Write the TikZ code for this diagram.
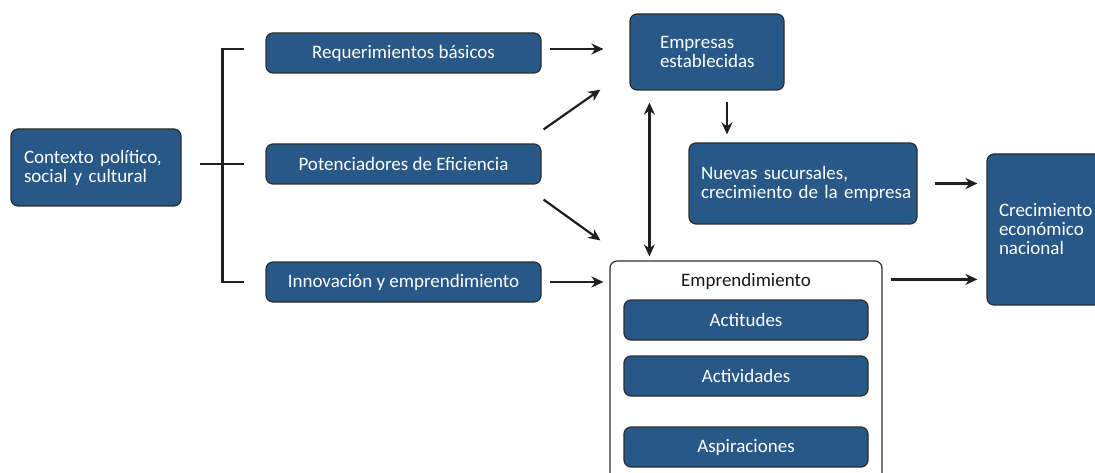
\documentclass[tikz,border=0pt]{standalone}
\usepackage{fontspec}
\setmainfont{Carlito}
\usetikzlibrary{arrows.meta}
\definecolor{boxblue}{RGB}{40,88,136}
\definecolor{edgegray}{RGB}{45,45,45}
\begin{document}
\begin{tikzpicture}[x=1pt,y=-1pt,
  bluebox/.style={draw=edgegray, line width=1.2pt, fill=boxblue, rounded corners=7pt,
    text=white, font=\fontsize{19}{19}\selectfont, inner sep=0pt},
  conn/.style={line width=2.2pt, draw=black!88, -{Stealth[length=12pt,width=11pt]}},
  brk/.style={line width=2.2pt, draw=black!88},
]
\useasboundingbox (0,0) rectangle (1095,473);
% left
\node[bluebox, minimum width=170, minimum height=77, align=left, text width=144] (ctx) at (96,167.5)
  {\mbox{Contexto político,}\\\mbox{social y cultural}};
\node[bluebox, minimum width=275, minimum height=40] (req) at (403.5,53) {Requerimientos básicos};
\node[bluebox, minimum width=275, minimum height=40] (pot) at (403.5,164) {Potenciadores de Eficiencia};
\node[bluebox, minimum width=275, minimum height=40] (inn) at (403.5,282) {Innovación y emprendimiento};
% middle
\node[bluebox, minimum width=154, minimum height=76, align=left, text width=94] (emp) at (707,52)
  {\mbox{Empresas}\\\mbox{establecidas}};
\node[bluebox, minimum width=228, minimum height=81, align=left, text width=204] (nue) at (803,183.5)
  {\mbox{Nuevas sucursales,}\\\mbox{crecimiento de la empresa}};
\node[bluebox, minimum width=133, minimum height=151, align=left, text width=109] (cre) at (1053.5,229.5)
  {\mbox{Crecimiento}\\\mbox{económico}\\\mbox{nacional}};
% emprendimiento group
\node[draw=edgegray, line width=1.2pt, fill=white, rounded corners=7pt, minimum width=272, minimum height=219, inner sep=0pt] (empr) at (746,370.5) {};
\node[font=\fontsize{19}{19}\selectfont, text=black!90, inner sep=0pt] (emprt) at (746,281) {Emprendimiento};
\node[bluebox, minimum width=244, minimum height=40] (act) at (746,320) {Actitudes};
\node[bluebox, minimum width=244, minimum height=40] (acv) at (746,376) {Actividades};
\node[bluebox, minimum width=244, minimum height=40] (asp) at (746,447) {Aspiraciones};
% bracket
\draw[brk] ([shift={(-21,-4)}]req.west) -- ([shift={(-43,-4)}]req.west) |- ([xshift=-43pt]inn.west) -- ([xshift=-21pt]inn.west);
\draw[brk] ([xshift=-65pt]pot.west) -- ([xshift=-21pt]pot.west);
% arrows
\draw[conn, shorten <=8pt, shorten >=26pt] ([yshift=4pt]req.east) -- ([yshift=4pt]req.east -| emp.west);
\draw[conn] ([shift={(2,-14)}]pot.north east) -- ([shift={(-29,-1)}]emp.south west);
\draw[conn] ([shift={(2,15)}]pot.south east) -- ([shift={(-9,-20)}]empr.north west);
\draw[conn, shorten <=8pt, shorten >=6pt] (inn.east) -- (inn.east -| empr.west);
\draw[conn, {Stealth[length=12pt,width=11pt]}-{Stealth[length=12pt,width=11pt]}, shorten <=12pt, shorten >=4pt]
  ([xshift=20pt]emp.south west) -- ([xshift=40pt]empr.north west);
\draw[conn, shorten <=11pt, shorten >=8pt] ([xshift=20pt]emp.south) -- ([xshift=20pt]emp.south |- nue.north);
\draw[conn, shorten <=17pt, shorten >=9pt] (nue.east) -- (nue.east -| cre.west);
\draw[conn, shorten <=8pt, shorten >=9pt] ([yshift=-19pt]empr.north east) -- ([yshift=-19pt]empr.north east -| cre.west);
\end{tikzpicture}
\end{document}
